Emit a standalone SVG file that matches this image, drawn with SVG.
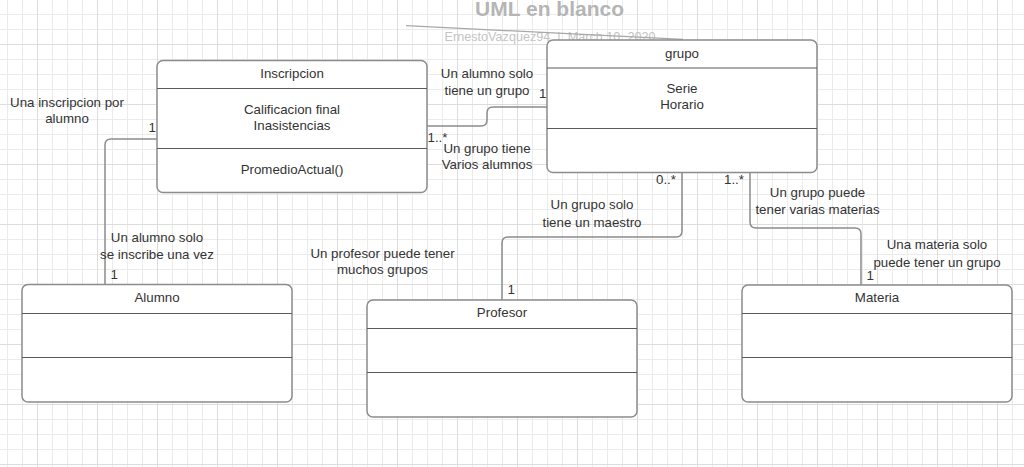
<svg xmlns="http://www.w3.org/2000/svg" width="1024" height="467" viewBox="0 0 1024 467">
<defs>
<pattern id="grid" patternUnits="userSpaceOnUse" x="37" y="44" width="60" height="60">
<path d="M15.5,0V60M30.5,0V60M45.5,0V60M0,15.5H60M0,30.5H60M0,45.5H60" stroke="#ebebeb" stroke-width="1" fill="none"/>
<path d="M0.5,0V60M0,0.5H60" stroke="#dddddd" stroke-width="1" fill="none"/>
</pattern>
<style>
.box{fill:#ffffff;stroke:#8c8c8c;stroke-width:1.5}
.div{stroke:#5a5a5a;stroke-width:1}
.t{font-family:"Liberation Sans",Arial,sans-serif;font-size:13.3px;fill:#333333;text-anchor:middle}
.l{font-family:"Liberation Sans",Arial,sans-serif;font-size:13.3px;fill:#333333}
.conn{fill:none;stroke:#8c8c8c;stroke-width:1.5}
</style>
</defs>
<rect width="1024" height="467" fill="#ffffff"/>
<rect width="1024" height="467" fill="url(#grid)"/>

<g id="header">
<text x="549.5" y="16" font-family="'Liberation Sans',Arial,sans-serif" font-size="21" font-weight="bold" fill="#b5b5b5" text-anchor="middle">UML en blanco</text>
<text x="444.5" y="41" font-family="'Liberation Sans',Arial,sans-serif" font-size="12.6" fill="#c4c4c4" xml:space="preserve" textLength="211" lengthAdjust="spacing">ErnestoVazquez94  |  March 10, 2020</text>
<line x1="406" y1="25.7" x2="683" y2="39.3" stroke="#a8a8a8" stroke-width="1.3"/>
</g>

<g id="connectors">
<path class="conn" d="M105,284.5V145Q105,139 111,139H157"/>
<path class="conn" d="M427,126H481Q487,126 487,120V113Q487,107 493,107H547"/>
<path class="conn" d="M682,173V231Q682,237 676,237H508Q502,237 502,243V300"/>
<path class="conn" d="M750,173V222Q750,228 756,228H855Q861,228 861,234V285"/>
</g>

<g id="labels">
<text class="t" x="67" y="107">Una inscripcion por</text>
<text class="t" x="67" y="123">alumno</text>
<text class="l" x="148.5" y="132">1</text>
<text class="t" x="157" y="242">Un alumno solo</text>
<text class="t" x="157" y="259">se inscribe una vez</text>
<text class="l" x="110.5" y="279">1</text>
<text class="t" x="487" y="78">Un alumno solo</text>
<text class="t" x="487" y="95">tiene un grupo</text>
<text class="l" x="539" y="98">1</text>
<text class="l" x="427.5" y="142">1..*</text>
<text class="t" x="487" y="152.5">Un grupo tiene</text>
<text class="t" x="487" y="169">Varios alumnos</text>
<text class="l" x="656" y="184">0..*</text>
<text class="l" x="724" y="184">1..*</text>
<text class="t" x="592" y="209">Un grupo solo</text>
<text class="t" x="592" y="226.5">tiene un maestro</text>
<text class="t" x="382.5" y="257.5">Un profesor puede tener</text>
<text class="t" x="382.5" y="274">muchos grupos</text>
<text class="l" x="507.5" y="294">1</text>
<text class="t" x="817.5" y="197">Un grupo puede</text>
<text class="t" x="817.5" y="214">tener varias materias</text>
<text class="t" x="937" y="249">Una materia solo</text>
<text class="t" x="937" y="266.5">puede tener un grupo</text>
<text class="l" x="866.5" y="280">1</text>
</g>

<g id="Inscripcion">
<rect class="box" x="157" y="60.5" width="270" height="132" rx="6"/>
<line class="div" x1="157" y1="88.5" x2="427" y2="88.5"/>
<line class="div" x1="157" y1="148.5" x2="427" y2="148.5"/>
<text class="t" x="292" y="77.5">Inscripcion</text>
<text class="t" x="292" y="113.5">Calificacion final</text>
<text class="t" x="292" y="129.5">Inasistencias</text>
<text class="t" x="292" y="173.5">PromedioActual()</text>
</g>

<g id="grupo">
<rect class="box" x="547" y="40" width="270" height="132.5" rx="6"/>
<line class="div" x1="547" y1="68" x2="817" y2="68"/>
<line class="div" x1="547" y1="128.5" x2="817" y2="128.5"/>
<text class="t" x="682" y="57.5">grupo</text>
<text class="t" x="682" y="93">Serie</text>
<text class="t" x="682" y="109">Horario</text>
</g>

<g id="Alumno">
<rect class="box" x="22" y="284.5" width="270" height="117.5" rx="6"/>
<line class="div" x1="22" y1="313.5" x2="292" y2="313.5"/>
<line class="div" x1="22" y1="357.5" x2="292" y2="357.5"/>
<text class="t" x="157" y="302">Alumno</text>
</g>

<g id="Profesor">
<rect class="box" x="367" y="300" width="270" height="117" rx="6"/>
<line class="div" x1="367" y1="328.5" x2="637" y2="328.5"/>
<line class="div" x1="367" y1="372.5" x2="637" y2="372.5"/>
<text class="t" x="502" y="317">Profesor</text>
</g>

<g id="Materia">
<rect class="box" x="742" y="285" width="270" height="117" rx="6"/>
<line class="div" x1="742" y1="313.5" x2="1012" y2="313.5"/>
<line class="div" x1="742" y1="357.5" x2="1012" y2="357.5"/>
<text class="t" x="877" y="302">Materia</text>
</g>
</svg>
